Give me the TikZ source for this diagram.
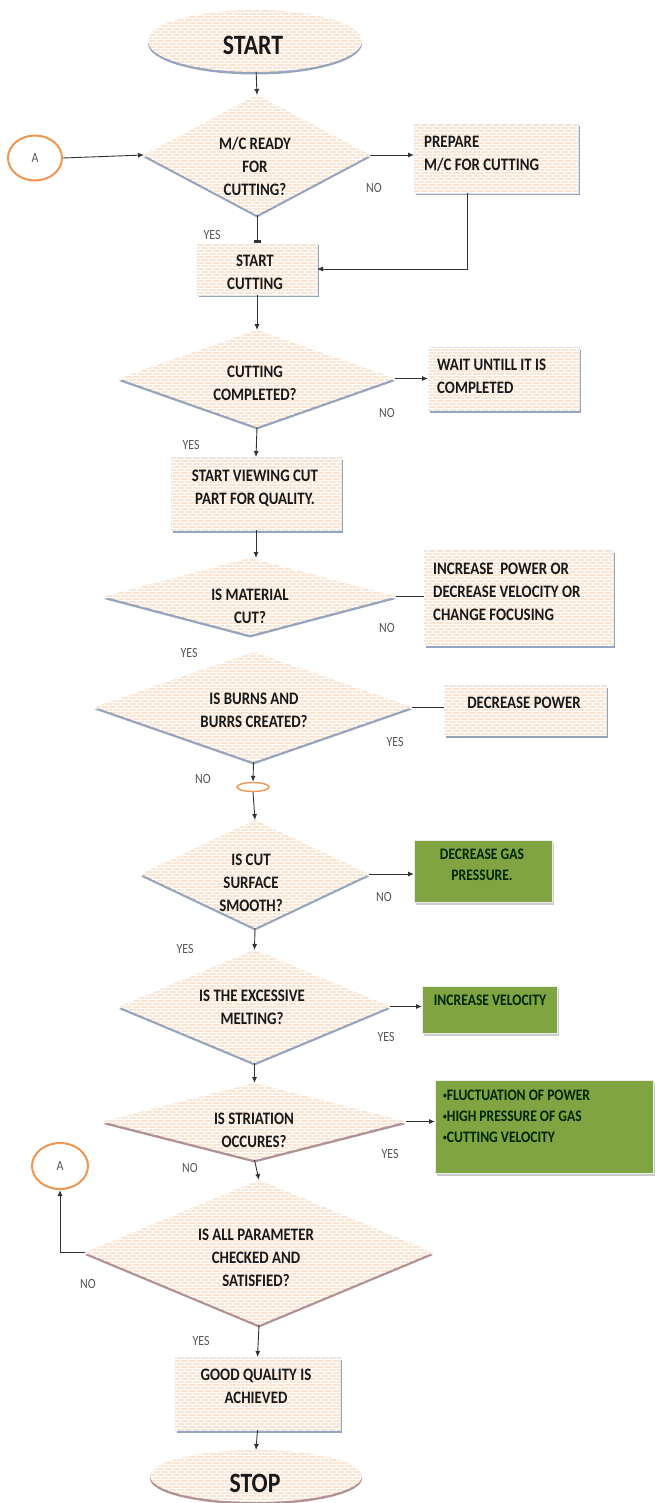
\documentclass[tikz,border=0pt]{standalone}
\usepackage{fontspec}
\usepackage{graphicx}
\setmainfont{Carlito}[FakeStretch=0.85]
\usetikzlibrary{shapes.geometric,arrows.meta,shadows,patterns,calc}
\definecolor{peach}{RGB}{251,228,210}
\definecolor{leaf}{RGB}{128,164,66}
\definecolor{ring}{RGB}{240,150,80}
\definecolor{shblue}{RGB}{150,165,190}
\definecolor{shmauve}{RGB}{175,145,150}
\definecolor{labgray}{RGB}{85,85,85}
\pgfdeclarepatternformonly{tinybricks}{\pgfpoint{-1pt}{-1pt}}{\pgfpoint{9pt}{7pt}}{\pgfpoint{8pt}{6pt}}{%
  \pgfsetlinewidth{0.5pt}%
  \pgfpathmoveto{\pgfpoint{0pt}{0pt}}\pgfpathlineto{\pgfpoint{8pt}{0pt}}%
  \pgfpathmoveto{\pgfpoint{0pt}{3pt}}\pgfpathlineto{\pgfpoint{8pt}{3pt}}%
  \pgfpathmoveto{\pgfpoint{0pt}{0pt}}\pgfpathlineto{\pgfpoint{0pt}{3pt}}%
  \pgfpathmoveto{\pgfpoint{4pt}{3pt}}\pgfpathlineto{\pgfpoint{4pt}{6pt}}%
  \pgfusepath{stroke}}
\newcommand{\smallbul}{\raisebox{2.5pt}{\scalebox{0.55}{\textbullet}}}
\tikzset{
  brickfill/.style={fill=peach, postaction={pattern=tinybricks, pattern color=white}},
  dia/.style={diamond, draw=none, brickfill, inner sep=0pt, outer sep=0pt,
    drop shadow={shadow xshift=0pt, shadow yshift=-2.5pt, fill=#1, opacity=1}},
  dia/.default=shblue,
  boxb/.style={rectangle, draw=white!80!gray, line width=0.4pt, brickfill, inner sep=0pt, outer sep=0pt,
    drop shadow={shadow xshift=1.5pt, shadow yshift=-2.5pt, fill=shblue, opacity=1}},
  greenb/.style={rectangle, draw=white!85!gray, line width=1pt, fill=leaf, inner sep=0pt, outer sep=0pt,
    drop shadow={shadow xshift=1.5pt, shadow yshift=-2.5pt, fill=gray!40, opacity=1}},
  term/.style={ellipse, draw=none, brickfill, inner sep=0pt, outer sep=0pt,
    drop shadow={shadow xshift=0pt, shadow yshift=-2.5pt, fill=#1, opacity=1}},
  term/.default=shblue,
  conn/.style={ellipse, draw=ring, line width=2pt, fill=white, inner sep=0pt,
    font=\fontsize{14}{16}\selectfont, text=labgray},
  txt/.style={font=\bfseries\fontsize{17.5}{23}\selectfont, align=center, text=black!90, inner sep=0pt},
  gtxt/.style={font=\bfseries\fontsize{16}{21}\selectfont, align=center, text=black!85!green, inner sep=0pt},
  bigtxt/.style={font=\bfseries\fontsize{28}{30}\selectfont, text=black!90, inner sep=0pt},
  lbl/.style={font=\fontsize{14}{16}\selectfont, text=labgray, inner sep=0pt},
  flow/.style={draw=black!80, line width=0.9pt, -{Latex[length=6pt,width=5pt]}},
  plain/.style={draw=black!80, line width=0.9pt},
}
\begin{document}
\begin{tikzpicture}[x=1pt,y=-1pt]
\fill[white] (0,0) rectangle (654,1503);
\useasboundingbox (0,0) rectangle (654,1503);

% terminals
\node[term, minimum width=214, minimum height=62] (start) at (255,41) {};
\node[bigtxt] (startt) at (253,45) {START};
\node[term=shmauve, minimum width=212, minimum height=52] (stop) at (256,1476) {};
\node[bigtxt] (stopt) at (255,1483) {STOP};

% connectors A
\node[conn, minimum width=54, minimum height=45] (a1) at (35,158) {A};
\node[conn, minimum width=56, minimum height=46] (a2) at (60,1166) {A};

% diamonds
\node[dia, minimum width=226, minimum height=120] (d1) at (257,155) {};
\node[txt] (d1t) at (255,166) {M/C READY\\FOR\\CUTTING?};
\node[dia, minimum width=276, minimum height=97] (d2) at (257,378.5) {};
\node[txt] (d2t) at (255,383) {CUTTING\\COMPLETED?};
\node[dia, minimum width=292, minimum height=77] (d3) at (250,596.5) {};
\node[txt] (d3t) at (250,606) {IS MATERIAL\\CUT?};
\node[dia, minimum width=317, minimum height=110] (d4) at (253.5,707) {};
\node[txt] (d4t) at (254,710) {IS BURNS AND\\BURRS CREATED?};
\node[dia, minimum width=228, minimum height=108] (d5) at (255,874) {};
\node[txt] (d5t) at (251,883) {IS CUT\\SURFACE\\SMOOTH?};
\node[dia, minimum width=271, minimum height=113] (d6) at (254.5,1006.5) {};
\node[txt] (d6t) at (252,1007) {IS THE EXCESSIVE\\MELTING?};
\node[dia=shmauve, minimum width=303, minimum height=77] (d7) at (254.5,1121.5) {};
\node[txt] (d7t) at (254,1130) {IS STRIATION\\OCCURES?};
\node[dia=shmauve, minimum width=348, minimum height=145] (d8) at (259,1252.5) {};
\node[txt] (d8t) at (256,1258) {IS ALL PARAMETER\\CHECKED AND\\SATISFIED?};

% boxes
\node[boxb, minimum width=164, minimum height=69] (prep) at (496,158.5) {};
\node[txt, anchor=west, align=left] (prept) at (424,153.5) {PREPARE\\M/C FOR CUTTING};
\node[boxb, minimum width=120, minimum height=52] (sc) at (257,269) {};
\node[txt] (sct) at (255,272.5) {START\\CUTTING};
\node[boxb, minimum width=151, minimum height=63] (wait) at (503.5,378.5) {};
\node[txt, anchor=west, align=left] (waitt) at (437,376.5) {WAIT UNTILL IT IS\\COMPLETED};
\node[boxb, minimum width=170, minimum height=73] (view) at (256,493.5) {};
\node[txt] (viewt) at (255,488) {START VIEWING CUT\\PART FOR QUALITY.};
\node[boxb, minimum width=189, minimum height=95] (inc) at (518.5,597.5) {};
\node[txt, anchor=west, align=left] (inct) at (433,591.5) {INCREASE\ \ POWER OR\\DECREASE VELOCITY OR\\CHANGE FOCUSING};
\node[boxb, minimum width=162, minimum height=50] (dp) at (525,710) {};
\node[txt] (dpt) at (524,703) {DECREASE POWER};
\node[greenb, minimum width=138, minimum height=62] (gas) at (483,871) {};
\node[gtxt] (gast) at (482,865) {DECREASE GAS\\PRESSURE.};
\node[greenb, minimum width=135, minimum height=47] (vel) at (489.5,1009.5) {};
\node[gtxt] (velt) at (490,1000) {INCREASE VELOCITY};
\node[greenb, minimum width=218, minimum height=93] (bul) at (544,1126.5) {};
\node[gtxt, anchor=west, align=left] (bult) at (443,1116.5) {\smallbul FLUCTUATION OF POWER\\\smallbul HIGH PRESSURE OF GAS\\\smallbul CUTTING VELOCITY};
\node[boxb, minimum width=165, minimum height=73] (good) at (257.5,1393.5) {};
\node[txt] (goodt) at (256,1386) {GOOD QUALITY IS\\ACHIEVED};

% merge mark
\node[ellipse, draw=ring, line width=1.4pt, fill=white, minimum width=32, minimum height=9, inner sep=0pt] (mrg) at (253,787) {};

% connectors
\coordinate (pc) at (467,0);
\draw[flow] (start) -- (d1.north);
\draw[flow] (a1.east) -- (d1.west);
\draw[flow] (d1.east) -- (prep.west |- d1.east);
\draw[plain, -{Rectangle[length=2.5pt,width=7pt]}] (d1.south) -- (sc.north);
\draw[flow] (prep.south -| pc) |- (sc.east);
\draw[flow] (sc.south) -- (d2.north);
\draw[flow] (d2.east) -- (wait.west |- d2.east);
\draw[flow] (d2.south) -- (view.north);
\draw[flow] (view.south) -- (d3.north -| view.south);
\draw[plain] (d3.east) -- (inc.west |- d3.east);
\draw[plain] (d4.east) -- (dp.west |- d4.east);
\draw[flow] (d4.south) -- (mrg.north);
\draw[flow] (mrg.south) -- (d5.north);
\draw[flow] (d5.east) -- (gas.west |- d5.east);
\draw[flow] (d5.south) -- (d6.north);
\draw[flow] (d6.east) -- (vel.west |- d6.east);
\draw[flow] (d6.south) -- (d7.north);
\draw[flow] (d7.east) -- (bul.west |- d7.east);
\draw[flow] (d7.south) -- (d8.north);
\draw[flow] (d8.west) -| (a2.south);
\draw[flow] (d8.south) -- (good.north);
\draw[flow] (good.south) -- (stop.north);

% labels
\node[lbl] (l1) at (374,188) {NO};
\node[lbl] (l2) at (212,235) {YES};
\node[lbl] (l3) at (387,413) {NO};
\node[lbl] (l4) at (191,445) {YES};
\node[lbl] (l5) at (387,628) {NO};
\node[lbl] (l6) at (189,653) {YES};
\node[lbl] (l7) at (395,742) {YES};
\node[lbl] (l8) at (203,779) {NO};
\node[lbl] (l9) at (384,897) {NO};
\node[lbl] (l10) at (185,949) {YES};
\node[lbl] (l11) at (386,1037) {YES};
\node[lbl] (l12) at (390,1154) {YES};
\node[lbl] (l13) at (190,1168) {NO};
\node[lbl] (l14) at (88,1284) {NO};
\node[lbl] (l15) at (201,1341) {YES};
\end{tikzpicture}
\end{document}
